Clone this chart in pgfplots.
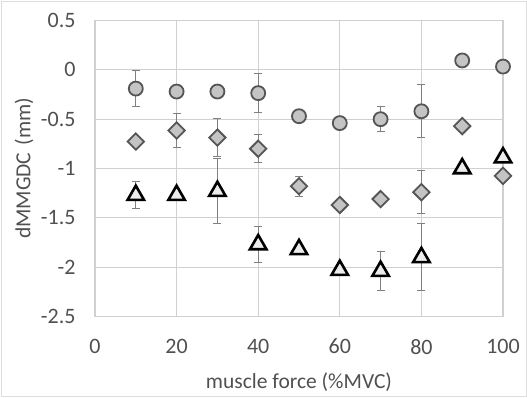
\documentclass[border=0pt]{standalone}
\usepackage{pgfplots}
\pgfplotsset{compat=1.18}
\usepackage{fontspec}
\setmainfont{Carlito}
\definecolor{txt}{HTML}{505050}
\definecolor{gridc}{HTML}{D0D0D0}
\definecolor{mk}{HTML}{555555}
\definecolor{mkfill}{HTML}{C4C4C4}
\begin{document}
\begin{tikzpicture}
\useasboundingbox (-95pt,-80.5pt) rectangle (432pt,316.5pt);
\draw[gridc!70,line width=0.8pt] (-94pt,-79.5pt) rectangle (431pt,315.5pt);
\begin{axis}[
  scale only axis, width=408pt, height=296pt,
  xmin=0, xmax=100, ymin=-2.5, ymax=0.5,
  xtick={0,20,...,100}, ytick={-2.5,-2,...,0.5},
  grid=major, grid style={gridc, line width=1.2pt},
  axis line style={gridc, line width=1.2pt},
  tick style={draw=none},
  yticklabel style={/pgf/number format/fixed, /pgf/number format/precision=1, xshift=-16pt},
  /pgf/number format/assume math mode=true,
  tick label style={font=\fontsize{22}{26}\selectfont, text=txt},
  label style={font=\fontsize{21.5}{26}\selectfont, text=txt},
  xlabel={muscle force (\%MVC)},
  ylabel={dMMGDC\,\,(mm)},
  xlabel style={at={(axis description cs:0.5,0)}, anchor=center, yshift=-66pt},
  ylabel style={at={(axis description cs:0,0.5)}, anchor=center, yshift=71pt},
  xticklabel style={yshift=-19pt},
  error bars/y dir=both, error bars/y explicit,
  error bars/error bar style={color=gray, line width=1pt},
  error bars/error mark options={rotate=90, mark size=4pt, color=gray, line width=1pt},
  clip=false,
]
% circles
\addplot[only marks, mark=*, mark size=7pt, mark options={draw=mk, fill=mkfill, line width=1.8pt}]
  coordinates {
  (10,-0.19) +- (0,0.18)
  (20,-0.22) +- (0,0.0)
  (30,-0.22) +- (0,0.0)
  (40,-0.236) +- (0,0.2)
  (50,-0.47) +- (0,0.0)
  (60,-0.54) +- (0,0.0)
  (70,-0.50) +- (0,0.13)
  (80,-0.42) +- (0,0.27)
  (90,0.095) +- (0,0.0)
  (100,0.033) +- (0,0.0)
  };
% diamonds
\addplot[only marks, mark=square*, mark size=5.8pt, mark options={rotate=45, draw=mk, fill=mkfill, line width=1.8pt}]
  coordinates {
  (10,-0.727) +- (0,0.0)
  (20,-0.615) +- (0,0.17)
  (30,-0.687) +- (0,0.19)
  (40,-0.80) +- (0,0.14)
  (50,-1.18) +- (0,0.1)
  (60,-1.37) +- (0,0.0)
  (70,-1.31) +- (0,0.0)
  (80,-1.24) +- (0,0.22)
  (90,-0.57) +- (0,0.0)
  (100,-1.075) +- (0,0.0)
  };
% triangles
\addplot[only marks, mark=triangle*, mark size=9.5pt, mark options={draw=black, fill=white!85!gray, line width=2.6pt}]
  coordinates {
  (10,-1.27) +- (0,0.14)
  (20,-1.27) +- (0,0.0)
  (30,-1.23) +- (0,0.33)
  (40,-1.77) +- (0,0.18)
  (50,-1.82) +- (0,0.0)
  (60,-2.03) +- (0,0.0)
  (70,-2.04) +- (0,0.2)
  (80,-1.90) +- (0,0.34)
  (90,-1.00) +- (0,0.0)
  (100,-0.89) +- (0,0.0)
  };
\end{axis}
\end{tikzpicture}
\end{document}
